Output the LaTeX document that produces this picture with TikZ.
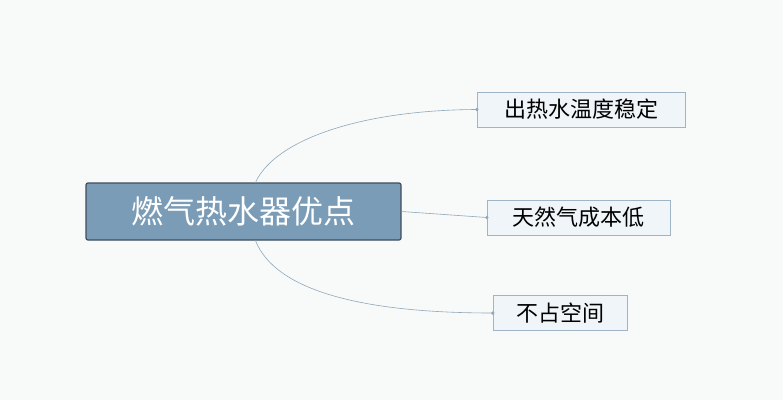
\documentclass[tikz,border=0pt]{standalone}
\usepackage{fontspec}
\newfontfamily\cjk{Noto Sans CJK SC}
\usetikzlibrary{calc}
\definecolor{bg}{HTML}{F8F9F9}
\definecolor{rootfill}{HTML}{7B9CB6}
\definecolor{rootline}{HTML}{3E4E5C}
\definecolor{leaffill}{HTML}{EFF5F8}
\definecolor{leafline}{HTML}{9FB4C4}
\definecolor{linkline}{HTML}{8FA8BA}
\tikzset{
  root/.style={draw=rootline, line width=1.2pt, fill=rootfill, rounded corners=2pt,
    minimum width=315pt, minimum height=57pt, text=white, font=\cjk\fontsize{32}{34}\selectfont},
  leaf/.style={draw=leafline, fill=leaffill, minimum height=35pt, inner xsep=6pt,
    font=\cjk\fontsize{22}{24}\selectfont},
  link/.style={draw=linkline, line width=0.6pt},
  dot/.style={fill=linkline}
}
\begin{document}
\begin{tikzpicture}[x=1pt,y=-1pt]
  \useasboundingbox[fill=bg] (0,0) rectangle (783,400);
  % nodes
  \node[root] (R) at (243.5,211.5) {燃气热水器优点};
  \node[leaf, minimum width=208pt] (A) at (581,109.5) {出热水温度稳定};
  \node[leaf, minimum width=183pt] (B) at (578.5,217.5) {天然气成本低};
  \node[leaf, minimum width=134pt] (C) at (560,313) {不占空间};
  % connectors
  \coordinate (RT) at ($(R.north)+(12,0)$);
  \coordinate (RB) at ($(R.south)+(12,0)$);
  \draw[link] (RT) .. controls (275,140) and (360,110) .. (A.west);
  \draw[link] (R.east) -- (B.west);
  \draw[link] (RB) .. controls (275,290) and (360,313) .. (C.west);
  \foreach \n in {A,B,C}
    \fill[dot] (\n.west) circle (1.8pt);
\end{tikzpicture}
\end{document}
